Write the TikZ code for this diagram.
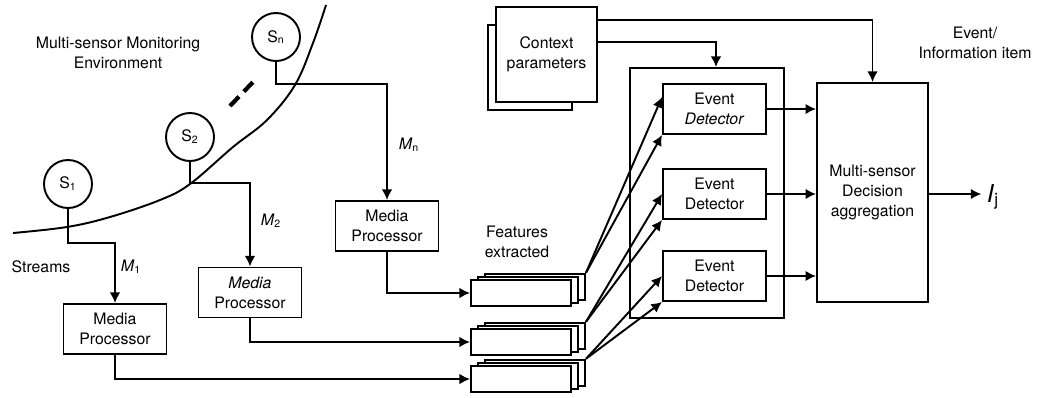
\documentclass[tikz,border=0pt]{standalone}
\usepackage{fontspec}
\setmainfont{TeX Gyre Heros}
\usetikzlibrary{arrows.meta,calc}

\tikzset{
  line/.style={line width=1.1pt},
  box/.style={draw, line width=1.1pt, fill=white, align=center, inner sep=1pt,
    minimum width=20.6mm, minimum height=10mm},
  sensor/.style={draw, circle, line width=1.1pt, fill=white, inner sep=0pt, minimum size=9.6mm},
  feat/.style={draw, line width=1.1pt, fill=white, inner sep=0pt,
    minimum width=20mm, minimum height=5.3mm},
  arr/.style={line width=1.1pt, -{Latex[length=6pt,width=6pt]}},
  lbl/.style={align=center, inner sep=0pt}
}

\begin{document}
\begin{tikzpicture}[x=0.2mm, y=-0.2mm, font=\fontsize{9}{11.4}\selectfont]
        \useasboundingbox (0,0) rectangle (1038,397);

        % Environment border
        \draw[line] plot[smooth, tension=0.6] coordinates {(13,233) (67,227) (110,217) (160,200)
            (190,184) (233,147) (267,120) (295,85) (313,43) (326,5)};
        \draw[line width=2.4pt, dash pattern=on 2.6mm off 1.4mm] (230,106) -- (253,82);

        \node[lbl] (env) at (118,53) {Multi-sensor Monitoring\\Environment};
        \node[lbl] (streams) at (41,267) {Streams};

        % Sensors
        \node[sensor] (s1) at (68,184) {S\textsubscript{1}};
        \node[sensor] (s2) at (190,137) {S\textsubscript{2}};
        \node[sensor] (sn) at (276,37) {S\textsubscript{n}};

        % Media processors
        \node[box] (mp1) at (115,329) {Media\\Processor};
        \node[box] (mp2) at (250,292.5) {\textit{Media}\\Processor};
        \node[box] (mpn) at (387,226) {Media\\Processor};

        \draw[arr] (s1.south) -- ++(0,34) -| (mp1.north);
        \draw[arr] (s2.south) -- ++(0,21) -| (mp2.north);
        \draw[arr] (sn.south) -- ++(0,22) -| (mpn.north);

        \node[lbl] (m1) at (131,267) {\textit{M}\textsubscript{1}};
        \node[lbl] (m2) at (271,221) {\textit{M}\textsubscript{2}};
        \node[lbl] (mn) at (409,145) {\textit{M}\textsubscript{n}};

        % Feature stacks
        \foreach \i/\y in {1/293, 2/342, 3/379} {
            \node[feat] (back\i) at (535,\y-6) {};
            \node[feat] (mid\i) at (528,\y-3) {};
            \node[feat] (feat\i) at (521,\y) {};
        }
        \node[lbl] (featlbl) at (517,242) {Features\\extracted};

        \draw[arr] (mpn.south) |- (feat1.west);
        \draw[arr] (mp2.south) |- (feat2.west);
        \draw[arr] (mp1.south) |- (feat3.west);

        % Context
        \node[draw, line, fill=white, minimum width=16.8mm, minimum height=17mm] (ctxback) at (530,67.5) {};
        \node[box, minimum width=20.2mm, minimum height=19mm] (ctx) at (546.5,54.5) {Context\\parameters};

        % Event detectors
        \node[draw, line, minimum width=30.8mm, minimum height=50mm] (frame) at (707,193) {};
        \node[box] (ed1) at (714.5,109) {Event\\\textit{Detector}};
        \node[box] (ed2) at (714.5,194) {Event\\Detector};
        \node[box] (ed3) at (714.5,276) {Event\\Detector};

        \draw[arr] (back1.north east) -- ($(ed1.west)+(0,-12)$);
        \draw[arr] (back1.north east) -- (ed1.south west);
        \draw[arr] (back2.north east) -- (ed2.west);
        \draw[arr] (back2.north east) -- (ed2.south west);
        \draw[arr] (back3.north east) -- (ed3.west);
        \draw[arr] (back3.north east) -- (ed3.south west);

        % Decision aggregation
        \node[box, minimum width=22.2mm, minimum height=43.8mm] (dec) at (872.5,192.5) {Multi-sensor\\Decision\\aggregation};

        \draw[arr] (ctx.north east) ++(0,14) -| (dec.north);
        \draw[arr] (ctx.north east) ++(0,36) -| ($(frame.north)+(9,0)$);

        \foreach \i in {1,2,3} {
            \draw[arr] (ed\i.east) -- (ed\i.east -| dec.west);
        }

        % Output
        \node[lbl] (evlbl) at (975,43) {Event/\\Information item};
        \node[inner sep=3pt] (ij) at (993,197) {\fontsize{14}{16}\selectfont\textit{I}\textsubscript{j}};
        \draw[arr] (dec.east |- ed2.east) -- (dec.east |- ed2.east -| ij.west);
    \end{tikzpicture}
\end{document}
